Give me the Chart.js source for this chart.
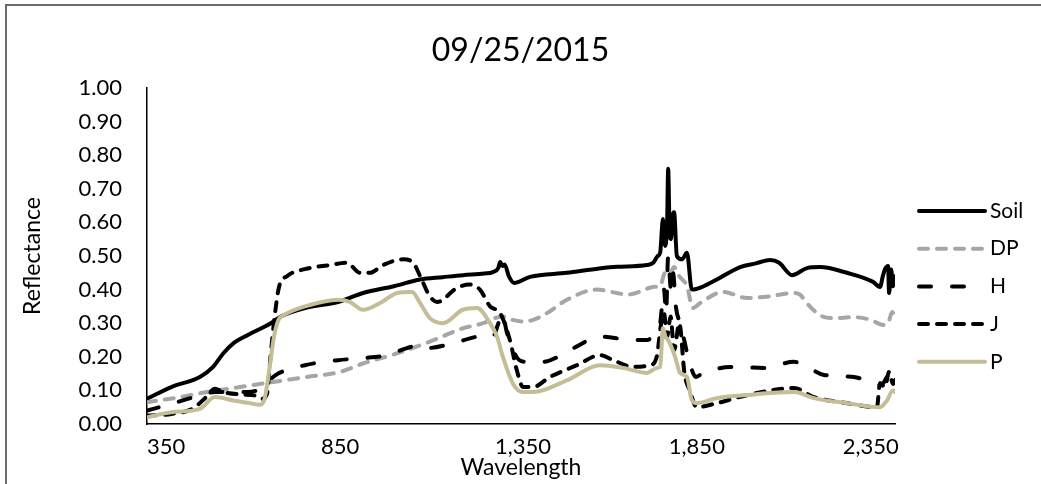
<!DOCTYPE html>
<html>
<head>
<meta charset="utf-8">
<title>Reflectance 09/25/2015</title>
<script src="https://cdn.jsdelivr.net/npm/chart.js@4"></script>
<style>
  body { margin: 0; background: #fff; }
  #wrap { position: relative; width: 1041px; height: 484px; }
  #myChart { display: block; }
  .frame { position: absolute; background: #6b6b6b; }
  #frameTop { left: 5px; top: 4px; width: 1036px; height: 2px; }
  #frameLeft { left: 5px; top: 4px; width: 2px; height: 480px; }
</style>
</head>
<body>
<div id="wrap">
  <canvas id="myChart" width="1041" height="484"></canvas>
  <div class="frame" id="frameTop"></div>
  <div class="frame" id="frameLeft"></div>
</div>
<script>
// wavelength (nm) / reflectance pairs for each surface
const soilNm = [350, 420, 502, 540, 569, 598, 640, 706, 735, 804, 899, 971, 1060, 1135, 1200, 1258, 1320, 1344, 1360, 1365, 1372, 1378, 1390, 1405, 1451, 1557, 1650, 1701, 1787, 1805, 1818, 1825, 1833, 1839, 1845, 1848, 1852, 1856, 1861, 1865, 1873, 1888, 1902, 1916, 1950, 1988, 2055, 2100, 2141, 2167, 2204, 2247, 2284, 2362, 2437, 2457, 2465, 2471, 2480, 2483, 2489, 2494, 2500];
const soilR  = [0.075, 0.11, 0.14, 0.17, 0.21, 0.24, 0.265, 0.30, 0.32, 0.345, 0.363, 0.39, 0.41, 0.43, 0.437, 0.443, 0.448, 0.452, 0.465, 0.482, 0.47, 0.475, 0.44, 0.42, 0.438, 0.45, 0.463, 0.468, 0.473, 0.48, 0.50, 0.51, 0.61, 0.53, 0.60, 0.76, 0.58, 0.55, 0.62, 0.63, 0.50, 0.49, 0.51, 0.40, 0.41, 0.43, 0.467, 0.478, 0.488, 0.48, 0.443, 0.464, 0.467, 0.45, 0.423, 0.408, 0.44, 0.46, 0.47, 0.39, 0.46, 0.41, 0.44];

const dpNm = [350, 445, 523, 617, 712, 810, 905, 971, 1068, 1163, 1258, 1316, 1350, 1373, 1400, 1431, 1460, 1500, 1557, 1643, 1700, 1730, 1770, 1805, 1825, 1839, 1850, 1865, 1880, 1902, 1919, 1940, 2006, 2075, 2140, 2207, 2227, 2244, 2284, 2322, 2380, 2430, 2466, 2480, 2492, 2500];
const dpR  = [0.065, 0.08, 0.095, 0.11, 0.125, 0.14, 0.155, 0.18, 0.21, 0.245, 0.285, 0.30, 0.315, 0.32, 0.31, 0.305, 0.31, 0.33, 0.37, 0.40, 0.39, 0.385, 0.395, 0.408, 0.41, 0.45, 0.44, 0.467, 0.44, 0.41, 0.345, 0.36, 0.393, 0.375, 0.38, 0.39, 0.385, 0.363, 0.324, 0.315, 0.318, 0.31, 0.295, 0.30, 0.333, 0.32];

const hNm = [350, 420, 502, 545, 598, 640, 665, 689, 727, 804, 899, 971, 1040, 1097, 1135, 1155, 1230, 1307, 1344, 1360, 1370, 1385, 1402, 1420, 1442, 1488, 1574, 1652, 1747, 1787, 1810, 1825, 1836, 1842, 1848, 1856, 1862, 1870, 1882, 1894, 1905, 1928, 1940, 2026, 2124, 2210, 2239, 2296, 2382, 2460, 2477, 2489, 2495, 2500];
const hR  = [0.04, 0.06, 0.085, 0.095, 0.095, 0.095, 0.10, 0.12, 0.15, 0.175, 0.19, 0.196, 0.205, 0.226, 0.235, 0.226, 0.24, 0.26, 0.26, 0.30, 0.33, 0.27, 0.22, 0.19, 0.185, 0.185, 0.225, 0.26, 0.25, 0.25, 0.27, 0.30, 0.40, 0.33, 0.50, 0.40, 0.45, 0.35, 0.30, 0.25, 0.20, 0.14, 0.146, 0.17, 0.167, 0.185, 0.175, 0.146, 0.14, 0.116, 0.14, 0.16, 0.12, 0.13];

const jNm = [350, 420, 480, 520, 545, 570, 620, 660, 680, 695, 705, 718, 730, 752, 800, 876, 925, 962, 991, 1028, 1086, 1115, 1135, 1163, 1184, 1241, 1278, 1307, 1336, 1365, 1393, 1413, 1431, 1460, 1508, 1586, 1652, 1690, 1747, 1796, 1815, 1828, 1836, 1845, 1855, 1865, 1880, 1895, 1910, 1930, 1988, 2075, 2210, 2267, 2362, 2448, 2457, 2471, 2483, 2494, 2500];
const jR  = [0.025, 0.03, 0.045, 0.08, 0.105, 0.095, 0.088, 0.085, 0.075, 0.09, 0.20, 0.33, 0.41, 0.44, 0.46, 0.473, 0.48, 0.45, 0.45, 0.473, 0.49, 0.48, 0.44, 0.38, 0.363, 0.405, 0.415, 0.40, 0.35, 0.33, 0.25, 0.16, 0.11, 0.11, 0.14, 0.175, 0.205, 0.19, 0.17, 0.175, 0.20, 0.30, 0.33, 0.26, 0.32, 0.22, 0.30, 0.15, 0.10, 0.05, 0.062, 0.086, 0.107, 0.08, 0.062, 0.05, 0.122, 0.11, 0.155, 0.12, 0.13];

const pNm = [350, 420, 502, 545, 598, 640, 675, 688, 700, 715, 728, 745, 804, 899, 934, 971, 1020, 1069, 1112, 1135, 1163, 1201, 1258, 1299, 1336, 1356, 1373, 1402, 1431, 1460, 1557, 1652, 1718, 1787, 1816, 1825, 1833, 1840, 1848, 1868, 1882, 1902, 1916, 1931, 1988, 2075, 2141, 2210, 2267, 2362, 2457, 2477, 2494, 2500];
const pR  = [0.02, 0.035, 0.045, 0.08, 0.07, 0.063, 0.057, 0.075, 0.15, 0.26, 0.31, 0.325, 0.35, 0.37, 0.363, 0.34, 0.36, 0.39, 0.393, 0.36, 0.315, 0.30, 0.34, 0.345, 0.30, 0.26, 0.20, 0.12, 0.095, 0.095, 0.13, 0.175, 0.167, 0.152, 0.167, 0.17, 0.285, 0.26, 0.25, 0.20, 0.152, 0.14, 0.071, 0.062, 0.077, 0.086, 0.092, 0.095, 0.077, 0.062, 0.05, 0.07, 0.10, 0.095];

const xTicks = [350, 850, 1350, 1850, 2350];

const FONT = 'Lato, "Open Sans", sans-serif';

function toPoints(xs, ys) {
    return xs.map((x, i) => ({ x: x, y: ys[i] }));
}

function withCommas(v) {
    return String(v).replace(/\B(?=(\d{3})+(?!\d))/g, ',');
}

// legend drawn to the right of the plot, one line sample per series
const sideLegend = {
    id: 'sideLegend',
    afterDraw(chart) {
        const ctx = chart.ctx;
        const area = chart.chartArea;
        const x0 = area.right + 24;
        const len = 66;
        let y = area.top + 123;
        ctx.save();
        ctx.font = '21px ' + FONT;
        ctx.textBaseline = 'middle';
        chart.data.datasets.forEach(ds => {
            ctx.beginPath();
            ctx.setLineDash(ds.borderDash || []);
            ctx.lineCap = 'round';
            ctx.lineWidth = ds.borderWidth;
            ctx.strokeStyle = ds.borderColor;
            ctx.moveTo(x0, y);
            ctx.lineTo(x0 + len, y);
            ctx.stroke();
            ctx.setLineDash([]);
            ctx.fillStyle = '#000';
            ctx.fillText(ds.label, x0 + len + 5, y);
            y += 37.7;
        });
        ctx.restore();
    }
};

const lineStyle = {
    pointRadius: 0,
    borderWidth: 4,
    fill: false,
    cubicInterpolationMode: 'monotone',
    borderCapStyle: 'round',
    borderJoinStyle: 'round'
};

const ctx = document.getElementById('myChart').getContext('2d');
const chart = new Chart(ctx, {
    type: 'line',
    data: {
        datasets: [
            { ...lineStyle, label: 'Soil', data: toPoints(soilNm, soilR), borderColor: '#000000', order: 4 },
            { ...lineStyle, label: 'DP', data: toPoints(dpNm, dpR), borderColor: '#A6A6A6', borderDash: [9, 9], order: 3 },
            { ...lineStyle, label: 'H', data: toPoints(hNm, hR), borderColor: '#000000', borderDash: [12, 21], order: 2 },
            { ...lineStyle, label: 'J', data: toPoints(jNm, jR), borderColor: '#000000', borderDash: [9, 9], order: 1 },
            { ...lineStyle, label: 'P', data: toPoints(pNm, pR), borderColor: '#C4BD97', order: 0 }
        ]
    },
    options: {
        responsive: false,
        animation: false,
        layout: { padding: 0 },
        plugins: {
            legend: { display: false },
            tooltip: { enabled: false },
            title: {
                display: true,
                text: '09/25/2015',
                color: '#000',
                font: { family: FONT, size: 32, weight: 'normal' },
                padding: { top: 31, bottom: 18.6 }
            }
        },
        scales: {
            x: {
                type: 'linear',
                min: 350,
                max: 2500,
                afterBuildTicks(scale) {
                    scale.ticks = xTicks.map(v => ({ value: v }));
                },
                afterFit(scale) {
                    scale.height = 60;
                },
                grid: { display: false, drawTicks: false },
                border: { color: '#000', width: 1.5 },
                ticks: {
                    align: 'start',
                    autoSkip: false,
                    maxRotation: 0,
                    padding: 10,
                    color: '#000',
                    font: { family: FONT, size: 22 },
                    callback: v => withCommas(v)
                },
                title: {
                    display: true,
                    text: 'Wavelength',
                    color: '#000',
                    font: { family: FONT, size: 23 },
                    padding: { top: 0, bottom: 3 }
                }
            },
            y: {
                min: 0,
                max: 1,
                afterFit(scale) {
                    scale.width = 147;
                },
                grid: { display: false, drawTicks: false },
                border: { color: '#000', width: 1.5 },
                ticks: {
                    stepSize: 0.1,
                    padding: 25,
                    color: '#000',
                    font: { family: FONT, size: 22 },
                    callback: v => v.toFixed(2)
                },
                title: {
                    display: true,
                    text: 'Reflectance',
                    color: '#000',
                    font: { family: FONT, size: 23 },
                    padding: { top: 19, bottom: 0 }
                }
            },
            // empty axis that keeps room for the legend on the right
            yr: {
                position: 'right',
                afterFit(scale) {
                    scale.width = 146;
                },
                grid: { display: false, drawTicks: false },
                border: { display: false },
                ticks: { display: false }
            }
        }
    },
    plugins: [sideLegend]
});
</script>
</body>
</html>
